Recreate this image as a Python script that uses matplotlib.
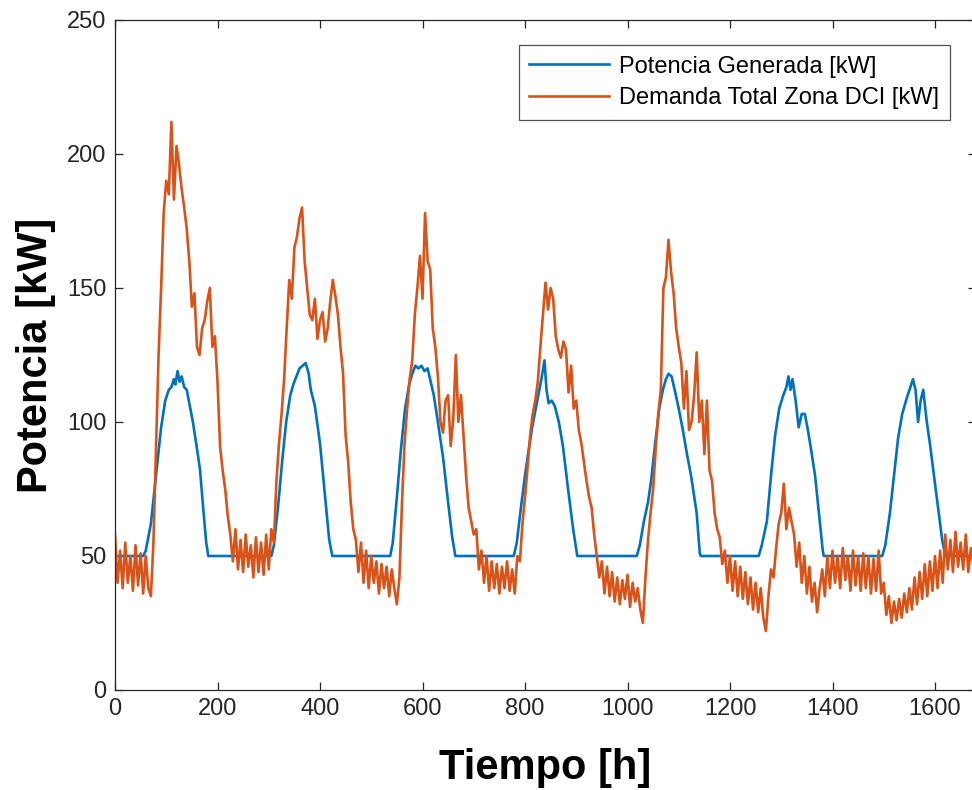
import numpy as np
import matplotlib
matplotlib.use("Agg")
import matplotlib.pyplot as plt

plt.rcParams['font.family'] = ['Liberation Sans', 'DejaVu Sans']

# ---- data ----
gen_hours = [0, 55, 60, 70, 80, 90, 98, 105, 110, 115, 118, 122, 126, 130, 135, 140, 146, 152, 160, 166, 172, 178, 182,
             305, 310, 318, 326, 334, 342, 348, 354, 360, 366, 372, 378, 382, 390, 400, 410, 418, 424,
             537, 542, 550, 558, 566, 574, 580, 586, 592, 598, 604, 610, 616, 622, 630, 640, 650, 658, 664,
             778, 784, 792, 800, 806, 814, 820, 826, 832, 838, 842, 846, 852, 858, 866, 874, 884, 894, 902,
             1018, 1024, 1032, 1040, 1046, 1054, 1062, 1069, 1075, 1080, 1086, 1092, 1100, 1108, 1116, 1124, 1135, 1141, 1143,
             1256, 1262, 1272, 1280, 1288, 1296, 1304, 1310, 1314, 1318, 1322, 1328, 1334, 1340, 1346, 1352, 1358, 1366, 1374, 1381, 1383,
             1497, 1503, 1512, 1520, 1528, 1536, 1545, 1552, 1557, 1562, 1567, 1572, 1577, 1584, 1590, 1598, 1606, 1614, 1620, 1680]
gen_kw = [50, 50, 52, 62, 80, 98, 108, 112, 113, 116, 114, 119, 115, 117, 113, 112, 106, 100, 90, 82, 68, 55, 50,
          50, 54, 68, 85, 100, 110, 114, 117, 120, 121, 122, 118, 112, 106, 92, 72, 56, 50,
          50, 55, 72, 90, 105, 114, 118, 121, 120, 121, 119, 120, 115, 110, 100, 87, 70, 57, 50,
          50, 55, 68, 80, 88, 98, 104, 110, 116, 123, 112, 107, 108, 106, 100, 91, 75, 60, 50,
          50, 54, 63, 70, 78, 92, 105, 112, 116, 118, 117, 112, 105, 97, 88, 80, 66, 51, 50,
          50, 54, 63, 80, 95, 105, 110, 113, 117, 112, 116, 108, 98, 103, 103, 97, 90, 80, 65, 52, 50,
          50, 54, 66, 80, 94, 103, 109, 113, 116, 112, 100, 108, 112, 100, 92, 80, 68, 56, 50, 50]

# demand sampled every 5 h, from 0 h to 1680 h
demand_step_h = 5
demand_kw = [
    58, 40, 52, 38, 55, 40, 50, 37, 54, 39, 51, 36,          # 0-55
    50, 38, 35, 55, 90, 125, 150, 178, 190, 185, 212, 183,   # 60-115
    203, 196, 187, 180, 172, 160, 143, 148, 128, 125, 135, 138,  # 120-175
    145, 150, 128, 132, 115, 91, 82, 75, 65, 58, 48, 60,     # 180-235
    45, 56, 44, 58, 46, 54, 42, 57, 44, 55, 43, 58,          # 240-295
    45, 60, 55, 78, 92, 103, 116, 135, 153, 146, 165, 169,   # 300-355
    176, 180, 160, 150, 140, 138, 146, 131, 138, 141, 130, 135,  # 360-415
    145, 153, 147, 140, 128, 118, 95, 85, 70, 60, 56, 44,    # 420-475
    55, 40, 52, 38, 50, 40, 48, 36, 47, 38, 46, 35,          # 480-535
    45, 38, 32, 42, 70, 92, 105, 116, 123, 140, 150, 162,    # 540-595
    146, 178, 160, 157, 135, 128, 117, 100, 96, 108, 110, 91,  # 600-655
    101, 125, 100, 110, 95, 80, 68, 63, 58, 60, 45, 52,      # 660-715
    40, 50, 37, 48, 38, 47, 36, 46, 38, 48, 37, 45,          # 720-775
    36, 50, 48, 62, 72, 83, 95, 103, 108, 115, 128, 140,     # 780-835
    152, 142, 150, 146, 132, 127, 124, 130, 127, 111, 121, 105,  # 840-895
    108, 97, 92, 85, 78, 72, 68, 58, 50, 42, 48, 36,         # 900-955
    46, 35, 44, 33, 42, 32, 41, 34, 43, 31, 40, 33,          # 960-1015
    38, 30, 25, 42, 56, 66, 75, 90, 103, 112, 150, 154,      # 1020-1075
    168, 156, 148, 135, 128, 122, 105, 119, 97, 100, 110, 126,  # 1080-1135
    100, 108, 88, 108, 82, 78, 66, 60, 57, 47, 52, 40,       # 1140-1195
    50, 37, 48, 35, 46, 34, 44, 32, 42, 30, 40, 29,          # 1200-1255
    38, 27, 22, 35, 45, 42, 53, 62, 66, 77, 60, 68,          # 1260-1315
    63, 58, 46, 55, 40, 50, 36, 46, 33, 40, 29, 38,          # 1320-1375
    45, 35, 50, 38, 52, 40, 50, 38, 53, 41, 50, 37,          # 1380-1435
    52, 39, 50, 37, 51, 38, 50, 36, 49, 37, 52, 36,          # 1440-1495
    40, 28, 35, 25, 33, 26, 34, 27, 36, 29, 38, 30,          # 1500-1555
    42, 32, 44, 34, 47, 35, 48, 37, 50, 38, 52, 40,          # 1560-1615
    58, 45, 56, 44, 59, 46, 55, 45, 58, 44, 53, 46,          # 1620-1675
    50,                                                      # 1680
]
demand_hours = np.arange(len(demand_kw)) * demand_step_h

series_labels = ['Potencia Generada [kW]', 'Demanda Total Zona DCI [kW]']
x_ticks = [0, 200, 400, 600, 800, 1000, 1200, 1400, 1600]
y_ticks = [0, 50, 100, 150, 200, 250]

# ---- figure ----
fig = plt.figure(figsize=(9.72, 7.90), dpi=100)
ax = fig.add_axes([115 / 972, 100 / 790, 861 / 972, 670 / 790])

ax.plot(gen_hours, gen_kw, color='#0072BD', lw=1.9, label=series_labels[0])
ax.plot(demand_hours, demand_kw, color='#D95319', lw=1.9, label=series_labels[1])

ax.set_xlim(0, 1680)
ax.set_ylim(0, 250)
ax.set_xticks(x_ticks)
ax.set_yticks(y_ticks)

edge = '#262626'
for s in ax.spines.values():
    s.set_color(edge)
    s.set_linewidth(0.9)
ax.tick_params(direction='in', length=6, width=0.9, colors=edge, labelsize=17,
               top=True, right=True, pad=6)
for lab in ax.get_xticklabels() + ax.get_yticklabels():
    lab.set_color('#262626')

ax.set_xlabel('Tiempo [h]', fontsize=30, fontweight='bold', labelpad=20)
ax.set_ylabel('Potencia [kW]', fontsize=30, fontweight='bold', labelpad=8)

leg = ax.legend(loc='upper right', fontsize=17, frameon=True, fancybox=False,
                handlelength=3.4, borderpad=0.45, labelspacing=0.4,
                handletextpad=0.42, borderaxespad=0)
leg.get_frame().set_edgecolor(edge)
leg.get_frame().set_linewidth(0.9)
# place legend box: right edge at px 950, top at px 45
leg.set_bbox_to_anchor(((950 - 115) / 861, (690 - 45) / 670), transform=ax.transAxes)

fig.savefig('out.png', dpi=100, facecolor='white')
